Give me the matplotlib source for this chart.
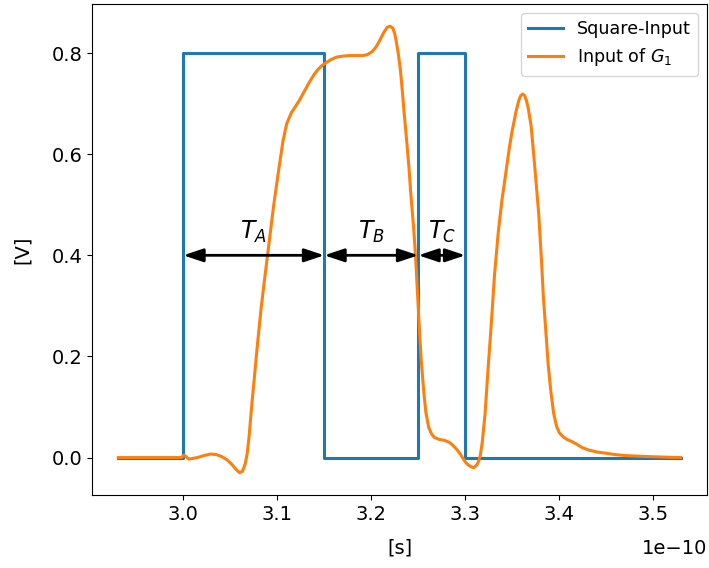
import matplotlib
matplotlib.use("Agg")
import matplotlib.pyplot as plt
import numpy as np

plt.rcParams.update({
    "xtick.labelsize": 14,
    "ytick.labelsize": 14,
    "axes.labelsize": 14,
    "legend.fontsize": 12.6,
})

# square input (steps-post), time in units of 1e-10 s
sq_t = [2.931, 3.00, 3.15, 3.25, 3.30, 3.529]
sq_v = [0.0, 0.8, 0.0, 0.8, 0.0, 0.0]

# input of G1
g1_t = [2.931, 2.990, 2.998, 3.001, 3.006, 3.015, 3.022, 3.029, 3.035, 3.041,
        3.047, 3.052, 3.056, 3.060, 3.063, 3.066, 3.068, 3.070, 3.072, 3.075,
        3.079, 3.083, 3.087, 3.091, 3.096, 3.101, 3.106, 3.110, 3.115, 3.120,
        3.124, 3.129, 3.134, 3.139, 3.143, 3.148, 3.152, 3.157, 3.163, 3.170,
        3.177, 3.185, 3.191, 3.196, 3.201, 3.205, 3.209, 3.213, 3.217, 3.220,
        3.223, 3.225, 3.227, 3.229, 3.231, 3.233, 3.235, 3.237, 3.240, 3.242,
        3.245, 3.247, 3.249, 3.251, 3.253, 3.256, 3.258, 3.261, 3.264, 3.267,
        3.272, 3.278, 3.283, 3.287, 3.291, 3.295, 3.299, 3.302, 3.306, 3.309,
        3.312, 3.314, 3.316, 3.318, 3.321, 3.324, 3.328, 3.331, 3.335, 3.339,
        3.343, 3.347, 3.350, 3.354, 3.357, 3.359, 3.361, 3.363, 3.365, 3.367,
        3.370, 3.372, 3.375, 3.378, 3.381, 3.383, 3.386, 3.388, 3.391, 3.394,
        3.397, 3.400, 3.404, 3.408, 3.413, 3.418, 3.424, 3.431, 3.440, 3.448,
        3.459, 3.470, 3.482, 3.494, 3.510, 3.529]
g1_v = [0.0, 0.0, 0.0, 0.005, -0.003, 0.0, 0.004, 0.007, 0.006, 0.002,
        -0.005, -0.014, -0.023, -0.030, -0.027, -0.012, 0.008, 0.040, 0.085, 0.145,
        0.225, 0.298, 0.360, 0.420, 0.496, 0.562, 0.625, 0.660, 0.682, 0.696,
        0.708, 0.725, 0.742, 0.757, 0.767, 0.776, 0.781, 0.787, 0.792, 0.794,
        0.795, 0.795, 0.795, 0.797, 0.803, 0.812, 0.825, 0.840, 0.851, 0.853,
        0.849, 0.838, 0.818, 0.795, 0.766, 0.725, 0.680, 0.640, 0.575, 0.522,
        0.455, 0.400, 0.330, 0.260, 0.195, 0.126, 0.090, 0.060, 0.047, 0.040,
        0.036, 0.034, 0.030, 0.024, 0.016, 0.006, -0.006, -0.013, -0.018, -0.020,
        -0.015, -0.008, 0.005, 0.030, 0.087, 0.170, 0.275, 0.360, 0.445, 0.510,
        0.562, 0.615, 0.648, 0.685, 0.707, 0.716, 0.719, 0.716, 0.706, 0.690,
        0.655, 0.614, 0.550, 0.483, 0.390, 0.317, 0.240, 0.186, 0.130, 0.087,
        0.062, 0.049, 0.041, 0.036, 0.032, 0.027, 0.020, 0.015, 0.011, 0.009,
        0.006, 0.004, 0.003, 0.002, 0.001, 0.0]

# time intervals marked with arrows
spans = [(3.00, 3.15), (3.15, 3.25), (3.25, 3.30)]
span_labels = ["$T_A$", "$T_B$", "$T_C$"]
arrow_y = 0.4

x_ticks = [3.0, 3.1, 3.2, 3.3, 3.4, 3.5]
y_ticks = [0.0, 0.2, 0.4, 0.6, 0.8]

W, H = 709, 568
fig = plt.figure(figsize=(W / 100, H / 100), dpi=100)
ax = fig.add_axes([92 / W, 1 - 495 / H, 615 / W, 491 / H])

scale = 1e-10
ax.plot(np.array(sq_t) * scale, sq_v, drawstyle="steps-post", lw=2.2,
        color="tab:blue", label="Square-Input")
ax.plot(np.array(g1_t) * scale, g1_v, lw=2.2, color="tab:orange",
        label="Input of $G_1$")

for (a, b), lab in zip(spans, span_labels):
    ax.annotate("", xy=(b * scale, arrow_y), xytext=(a * scale, arrow_y),
                arrowprops=dict(arrowstyle="<|-|>,head_length=0.6,head_width=0.2",
                                color="k", lw=2, mutation_scale=20,
                                shrinkA=0, shrinkB=0))
    ax.text((a + b) / 2 * scale, 0.42, lab, ha="center", va="bottom",
            fontsize=17)

ax.set_xlim(2.903e-10, 3.557e-10)
ax.set_ylim(-0.074, 0.897)
ax.set_xticks(np.array(x_ticks) * scale)
ax.set_xticklabels([f"{t:.1f}" for t in x_ticks])
ax.set_yticks(y_ticks)
ax.set_xlabel("[s]", labelpad=11)
ax.set_ylabel("[V]", labelpad=14)
ax.legend(loc="upper right")

# offset text drawn by hand so it sits level with the x label
fig.text(707 / W, 1 - 548 / H, "1e\u221210", ha="right", va="center",
         fontsize=14)

fig.savefig("out.png", dpi=100)
